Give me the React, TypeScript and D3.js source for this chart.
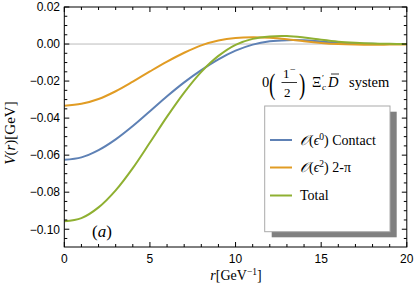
import React, { useEffect, useRef } from "react";
import * as d3 from "d3";

const rValues = [0, 1, 2, 3, 4, 5, 6, 7, 8, 9, 10, 11, 12, 13, 14, 15, 16, 17, 18, 19, 20];
const contactValues = [
  -0.0625, -0.0612, -0.0573, -0.0515, -0.0443, -0.0363, -0.0282, -0.0207, -0.0141, -0.0083,
  -0.0036, -0.0003, 0.0015, 0.0021, 0.002, 0.0013, 0.0007, 0.0003, 0.0001, 0.0, 0.0,
];
const twoPionValues = [
  -0.0333, -0.0323, -0.0297, -0.0255, -0.0203, -0.0148, -0.0095, -0.0047, -0.0007, 0.0019,
  0.0033, 0.0037, 0.0034, 0.0026, 0.0015, 0.0006, 0.0, -0.0003, -0.0004, -0.0003, -0.0002,
];
const totalValues = [
  -0.0957, -0.094, -0.0882, -0.079, -0.067, -0.0532, -0.0392, -0.0262, -0.015, -0.0064,
  -0.0004, 0.0028, 0.0041, 0.0043, 0.0035, 0.0023, 0.0013, 0.0007, 0.0003, 0.0001, 0.0,
];
const seriesNames = ["contact", "twoPion", "total"];
const seriesColors = ["#5e81b5", "#e19c24", "#8fb032"];
const xTicks = [0, 5, 10, 15, 20];
const yTicks = [-0.1, -0.08, -0.06, -0.04, -0.02, 0.0, 0.02];

const width = 415;
const height = 292;

const serif = "'Liberation Serif', 'Times New Roman', 'DejaVu Serif', serif";
const sans = "'Liberation Sans', Arial, sans-serif";

const App = () => {
  const svgRef = useRef<SVGSVGElement>(null);

  useEffect(() => {
    const svg = d3.select(svgRef.current);
    svg.selectAll("*").remove();

    const left = 64.3;
    const right = 406.8;
    const top = 7;
    const bottom = 247;

    const x = d3.scaleLinear().domain([0, 20]).range([left, right]);
    const y = d3.scaleLinear().domain([-0.1096, 0.02]).range([bottom, top]);

    // zero line
    svg
      .append("line")
      .attr("x1", left)
      .attr("x2", right)
      .attr("y1", y(0))
      .attr("y2", y(0))
      .attr("stroke", "#bbbbbb")
      .attr("stroke-width", 1);

    svg
      .append("clipPath")
      .attr("id", "plotclip")
      .append("rect")
      .attr("x", left)
      .attr("y", top)
      .attr("width", right - left)
      .attr("height", bottom - top);

    const allSeries = [contactValues, twoPionValues, totalValues];
    const line = d3
      .line<number>()
      .x((d, i) => x(rValues[i]))
      .y((d) => y(d))
      .curve(d3.curveCatmullRom.alpha(0.5));

    svg
      .append("g")
      .attr("clip-path", "url(#plotclip)")
      .selectAll("path")
      .data(allSeries)
      .enter()
      .append("path")
      .attr("class", (d, i) => seriesNames[i])
      .attr("d", (d) => line(d))
      .attr("fill", "none")
      .attr("stroke", (d, i) => seriesColors[i])
      .attr("stroke-width", 2);

    // frame + ticks
    const frame = svg.append("g").attr("stroke", "#000").attr("stroke-width", 1);
    frame
      .append("rect")
      .attr("x", left)
      .attr("y", top)
      .attr("width", right - left)
      .attr("height", bottom - top)
      .attr("fill", "none");

    const xMinor = d3.range(0, 20.01, 1);
    const yMinor = d3.range(-0.105, 0.0201, 0.005);
    xMinor.forEach((v) => {
      const len = v % 5 === 0 ? 5 : 3;
      frame.append("line").attr("x1", x(v)).attr("x2", x(v)).attr("y1", bottom).attr("y2", bottom - len);
      frame.append("line").attr("x1", x(v)).attr("x2", x(v)).attr("y1", top).attr("y2", top + len);
    });
    yMinor.forEach((v) => {
      const major = yTicks.some((t) => Math.abs(t - v) < 1e-6);
      const len = major ? 5 : 3;
      frame.append("line").attr("x1", left).attr("x2", left + len).attr("y1", y(v)).attr("y2", y(v));
      frame.append("line").attr("x1", right).attr("x2", right - len).attr("y1", y(v)).attr("y2", y(v));
    });

    svg
      .append("g")
      .style("font-family", sans)
      .style("font-size", "12px")
      .selectAll("text")
      .data(xTicks)
      .enter()
      .append("text")
      .attr("x", (d) => x(d))
      .attr("y", 263)
      .attr("text-anchor", "middle")
      .text((d) => d3.format("d")(d));

    svg
      .append("g")
      .style("font-family", sans)
      .style("font-size", "12px")
      .selectAll("text")
      .data(yTicks)
      .enter()
      .append("text")
      .attr("x", 60)
      .attr("y", (d) => y(d) + 4.3)
      .attr("text-anchor", "end")
      .text((d) => d3.format(".2f")(d).replace("-", "\u2212"));

    // everything else in serif
    const tg = svg.append("g").style("font-family", serif).attr("fill", "#000");

    const xl = tg
      .append("text")
      .attr("x", 236)
      .attr("y", 280)
      .attr("text-anchor", "middle")
      .style("font-size", "14px");
    xl.append("tspan").style("font-style", "italic").text("r");
    xl.append("tspan").text("[GeV");
    xl.append("tspan").style("font-size", "9.5px").attr("dy", -5).text("\u22121");
    xl.append("tspan").attr("dy", 5).text("]");

    const yl = tg
      .append("text")
      .attr("transform", "translate(15,133) rotate(-90)")
      .attr("text-anchor", "middle")
      .style("font-size", "15px");
    yl.append("tspan").style("font-style", "italic").text("V");
    yl.append("tspan").text("(");
    yl.append("tspan").style("font-style", "italic").text("r");
    yl.append("tspan").text(")[GeV]");

    const pa = tg.append("text").attr("x", 92).attr("y", 237).style("font-size", "17px");
    pa.append("tspan").text("(");
    pa.append("tspan").style("font-style", "italic").text("a");
    pa.append("tspan").text(")");

    // annotation 0(1-/2) Xi'_c Dbar system
    const ann = tg.append("g");
    ann.append("text").attr("x", 262).attr("y", 87).style("font-size", "14.5px").text("0");
    ann
      .append("text")
      .attr("transform", "translate(269,94) scale(1,1.6)")
      .style("font-size", "19px")
      .text("(");
    ann.append("text").attr("x", 283).attr("y", 78).style("font-size", "13px").text("1");
    ann.append("text").attr("x", 290).attr("y", 73).style("font-size", "10px").text("\u2212");
    ann
      .append("line")
      .attr("x1", 281.5)
      .attr("x2", 297)
      .attr("y1", 82.5)
      .attr("y2", 82.5)
      .attr("stroke", "#000")
      .attr("stroke-width", 0.8);
    ann.append("text").attr("x", 284).attr("y", 97).style("font-size", "13px").text("2");
    ann
      .append("text")
      .attr("transform", "translate(299,94) scale(1,1.6)")
      .style("font-size", "19px")
      .text(")");
    ann.append("text").attr("x", 312).attr("y", 87).style("font-size", "14.5px").text("\u039E");
    ann.append("text").attr("x", 322).attr("y", 81).style("font-size", "9px").text("\u2032");
    ann.append("text").attr("x", 322).attr("y", 90).style("font-size", "9px").style("font-style", "italic").text("c");
    ann.append("text").attr("x", 328).attr("y", 87).style("font-size", "14.5px").style("font-style", "italic").text("D");
    ann
      .append("line")
      .attr("x1", 331)
      .attr("x2", 339)
      .attr("y1", 74)
      .attr("y2", 74)
      .attr("stroke", "#000")
      .attr("stroke-width", 0.8);
    ann.append("text").attr("x", 349).attr("y", 87).style("font-size", "14.5px").text("system");

    // legend
    const lg = tg.append("g");
    lg.append("rect").attr("x", 271.7).attr("y", 111.7).attr("width", 125).attr("height", 125.6).attr("fill", "#808080");
    lg.append("rect")
      .attr("x", 264.7)
      .attr("y", 106)
      .attr("width", 125.3)
      .attr("height", 125.7)
      .attr("fill", "#fff")
      .attr("stroke", "#aaaaaa")
      .attr("stroke-width", 1);
    const legendLabels = [
      ["\u03F5", "0", ") Contact"],
      ["\u03F5", "2", ") 2-\u03C0"],
      ["", "", "Total"],
    ];
    const rowY = [140, 167.5, 195.5];
    seriesColors.forEach((c, i) => {
      lg.append("line")
        .attr("x1", 270)
        .attr("x2", 292)
        .attr("y1", rowY[i])
        .attr("y2", rowY[i])
        .attr("stroke", c)
        .attr("stroke-width", 2);
      const t = lg
        .append("text")
        .attr("x", 300)
        .attr("y", rowY[i] + 4.5)
        .style("font-size", "14px");
      const lab = legendLabels[i];
      if (lab[0] === "") {
        t.text(lab[2]);
      } else {
        t.append("tspan").style("font-style", "italic").text("\uD835\uDCAA");
        t.append("tspan").text("(");
        t.append("tspan").style("font-style", "italic").text(lab[0]);
        t.append("tspan").style("font-size", "9.5px").attr("dy", -5).text(lab[1]);
        t.append("tspan").attr("dy", 5).text(lab[2]);
      }
    });
  }, []);

  return (
    <svg
      ref={svgRef}
      width={width}
      height={height}
      style={{ position: "absolute", left: 0, top: 0, background: "#fff" }}
    />
  );
};

export default App;
